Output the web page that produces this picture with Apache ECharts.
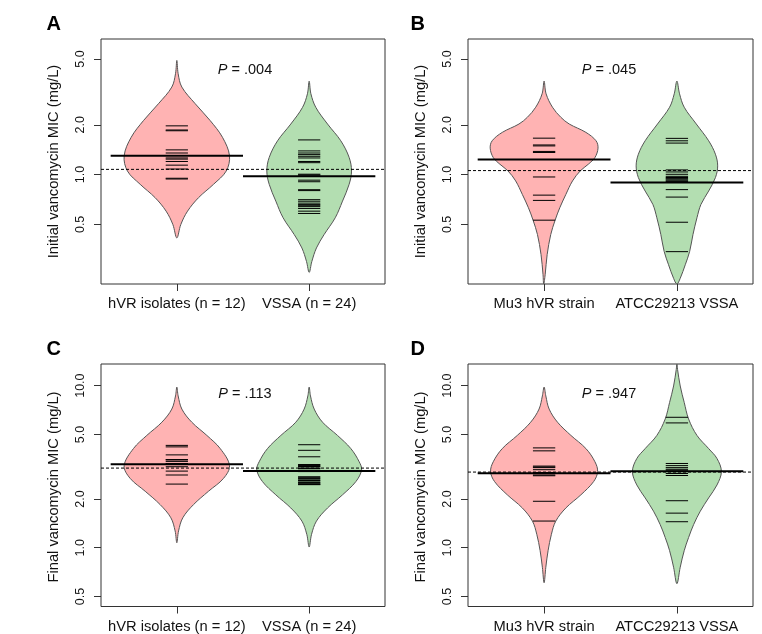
<!DOCTYPE html>
<html><head><meta charset="utf-8">
<script src="https://cdn.jsdelivr.net/npm/echarts@6/dist/echarts.min.js"></script>
<style>html,body{margin:0;padding:0;background:#fff}#c{width:762px;height:634px}</style>
</head><body><div id="c"></div>
<script>
// ---------- categories, ticks, labels ----------
const catsAC = ['hVR isolates (n = 12)', 'VSSA (n = 24)'];
const catsBD = ['Mu3 hVR strain', 'ATCC29213 VSSA'];
const ticksInitial = [0.5, 1.0, 2.0, 5.0];
const ticksFinal = [0.5, 1.0, 2.0, 5.0, 10.0];
const rangeInitial = [0.218, 6.6];
const rangeFinal = [0.434, 13.6];
const titleInitial = 'Initial vancomycin MIC (mg/L)';
const titleFinal = 'Final vancomycin MIC (mg/L)';
const pA = '.004', pB = '.045', pC = '.113', pD = '.947';

// ---------- individual MIC values (bean lines) ----------
const A_hVR = [1.97, 1.86, 1.84, 1.41, 1.35, 1.26, 1.24, 1.20, 1.14, 1.08, 0.95, 0.94];
const A_VSSA = [1.62, 1.39, 1.35, 1.32, 1.29, 1.26, 1.20, 1.18, 1.005, 0.995, 0.98, 0.925, 0.905, 0.81, 0.80, 0.705, 0.69, 0.672, 0.658, 0.652, 0.64, 0.624, 0.601, 0.582];
const B_Mu3 = [1.66, 1.51, 1.49, 1.38, 1.36, 0.967, 0.751, 0.698, 0.530];
const B_ATCC = [1.655, 1.60, 1.55, 1.067, 1.037, 1.004, 0.976, 0.96, 0.95, 0.94, 0.927, 0.915, 0.906, 0.811, 0.731, 0.515, 0.342];
const C_hVR = [4.28, 4.19, 3.74, 3.50, 3.48, 3.41, 3.31, 3.29, 3.16, 2.97, 2.81, 2.47];
const C_VSSA = [4.32, 3.99, 3.64, 3.26, 3.24, 3.22, 3.17, 3.15, 3.09, 3.07, 2.99, 2.97, 2.95, 2.74, 2.72, 2.67, 2.65, 2.60, 2.58, 2.53, 2.51, 2.48, 2.46, 2.45];
const D_Mu3 = [4.13, 3.96, 3.19, 3.15, 3.12, 3.03, 2.91, 2.81, 2.78, 1.935, 1.461];
const D_ATCC = [6.38, 5.89, 3.31, 3.21, 3.12, 3.05, 3.01, 2.95, 2.87, 2.79, 1.95, 1.635, 1.447];

// ---------- bean means and overall means ----------
const meansA = [1.30, 0.978], overallA = 1.075;
const meansB = [1.234, 0.894], overallB = 1.057;
const meansC = [3.27, 2.97], overallC = 3.10;
const meansD = [2.88, 2.96], overallD = 2.93;

// ---------- bean density outlines: [MIC, half width of density] ----------
const A_hVR_bean = [[4.90,0],[4.07,0.010],[3.38,0.038],[2.68,0.139],[2.12,0.252],[1.68,0.345],[1.30,0.398],[1.05,0.373],[0.873,0.277],[0.725,0.164],[0.601,0.081],[0.499,0.030],[0.414,0]];
const A_VSSA_bean = [[3.67,0],[3.08,0.013],[2.55,0.050],[2.02,0.139],[1.60,0.239],[1.27,0.302],[1.05,0.320],[0.873,0.302],[0.691,0.252],[0.548,0.197],[0.434,0.113],[0.360,0.055],[0.298,0.020],[0.256,0]];
const B_Mu3_bean = [[3.675,0],[3.077,0.015],[2.554,0.063],[2.220,0.126],[2.022,0.189],[1.799,0.315],[1.601,0.391],[1.445,0.406],[1.268,0.383],[1.155,0.333],[1.052,0.272],[0.915,0.214],[0.759,0.164],[0.630,0.118],[0.530,0.083],[0.434,0.050],[0.328,0.023],[0.248,0.008],[0.218,0.003]];
const B_ATCC_bean = [[3.675,0],[3.077,0.020],[2.554,0.055],[2.022,0.146],[1.601,0.239],[1.328,0.290],[1.128,0.307],[0.958,0.290],[0.795,0.239],[0.660,0.181],[0.548,0.151],[0.434,0.121],[0.343,0.096],[0.285,0.063],[0.236,0.025],[0.218,0]];
const C_hVR_bean = [[9.8,0],[8.64,0.010],[7.17,0.038],[5.95,0.113],[4.93,0.227],[4.09,0.328],[3.21,0.398],[2.68,0.353],[2.23,0.239],[1.845,0.126],[1.53,0.045],[1.27,0.013],[1.073,0]];
const C_VSSA_bean = [[9.8,0],[8.64,0.010],[7.17,0.038],[5.95,0.101],[4.93,0.214],[4.09,0.315],[3.39,0.378],[3.02,0.396],[2.56,0.353],[2.12,0.252],[1.76,0.139],[1.46,0.055],[1.21,0.018],[1.01,0]];
const D_Mu3_bean = [[9.8,0],[8.64,0.013],[7.17,0.038],[5.95,0.101],[4.93,0.202],[4.09,0.315],[3.39,0.383],[2.95,0.403],[2.56,0.373],[2.12,0.277],[1.76,0.164],[1.46,0.088],[1.21,0.055],[0.959,0.030],[0.758,0.013],[0.608,0]];
const D_ATCC_bean = [[13.6,0],[12.57,0.005],[9.95,0.025],[7.88,0.055],[6.23,0.088],[4.93,0.151],[4.09,0.239],[3.55,0.302],[2.95,0.335],[2.44,0.302],[2.03,0.239],[1.68,0.176],[1.39,0.126],[1.156,0.088],[0.959,0.055],[0.758,0.025],[0.60,0]];

// ---------- layout / styles ----------
const FONT = "'Liberation Sans', Arial, Helvetica, sans-serif";
const xMin = 0.427, xMax = 2.573;
const beanLineHalf = 0.084, meanHalf = 0.5;
const beanFill = ['#ffb3b3', '#b3deb1'];

const panels = [
  {letter:'A', grid:{left:101, top:39, width:284, height:245}, cats:catsAC, yTicks:ticksInitial, yRange:rangeInitial, title:titleInitial, p:pA,
   groups:[A_hVR, A_VSSA], beans:[A_hVR_bean, A_VSSA_bean], means:meansA, overall:overallA, letterPos:[46.5,24.5], pPos:[245,70], titlePos:[54,161.5]},
  {letter:'B', grid:{left:468, top:39, width:285, height:245}, cats:catsBD, yTicks:ticksInitial, yRange:rangeInitial, title:titleInitial, p:pB,
   groups:[B_Mu3, B_ATCC], beans:[B_Mu3_bean, B_ATCC_bean], means:meansB, overall:overallB, letterPos:[410.5,24.5], pPos:[609,70], titlePos:[421,161.5]},
  {letter:'C', grid:{left:101, top:364, width:284, height:246}, cats:catsAC, yTicks:ticksFinal, yRange:rangeFinal, title:titleFinal, p:pC,
   groups:[C_hVR, C_VSSA], beans:[C_hVR_bean, C_VSSA_bean], means:meansC, overall:overallC, letterPos:[46.5,349.8], pPos:[245,393.7], titlePos:[54,487]},
  {letter:'D', grid:{left:468, top:364, width:285, height:246}, cats:catsBD, yTicks:ticksFinal, yRange:rangeFinal, title:titleFinal, p:pD,
   groups:[D_Mu3, D_ATCC], beans:[D_Mu3_bean, D_ATCC_bean], means:meansD, overall:overallD, letterPos:[410.5,349.8], pPos:[609,393.7], titlePos:[421,487]}
];

const option = {animation:false, grid:[], xAxis:[], yAxis:[], series:[], graphic:[]};
const L = Math.log10;

panels.forEach((pn, i) => {
  option.grid.push(Object.assign({show:true, borderColor:'#333', borderWidth:1, backgroundColor:'transparent'}, pn.grid));
  option.xAxis.push({gridIndex:i, type:'value', min:xMin, max:xMax, position:'bottom',
    axisLine:{show:false, onZero:false}, splitLine:{show:false},
    axisTick:{show:true, customValues:[1,2], length:7, lineStyle:{color:'#333', width:1}},
    axisLabel:{show:true, customValues:[1,2], formatter:(v)=>pn.cats[Math.round(v)-1], margin:12.5,
      fontSize:14.7, color:'#111', fontFamily:FONT}});
  const lt = pn.yTicks.map(L);
  option.yAxis.push({gridIndex:i, type:'value', min:L(pn.yRange[0]), max:L(pn.yRange[1]), position:'left',
    axisLine:{show:false, onZero:false}, splitLine:{show:false},
    axisTick:{show:true, customValues:lt, length:7, lineStyle:{color:'#333', width:1}},
    axisLabel:{show:true, customValues:lt, rotate:90, formatter:(v)=>Math.pow(10,v).toFixed(1), margin:14,
      fontSize:12.5, color:'#111', fontFamily:FONT}});

  // beans (outline: left side top->bottom, right side bottom->top, tips shared)
  option.series.push({type:'custom', xAxisIndex:i, yAxisIndex:i, clip:true, z:2, silent:true,
    data:[[1],[2]],
    renderItem:(params, api)=>{
      const cx = api.value(0); const k = cx - 1;
      const ol = pn.beans[k];
      const left = ol.map(([v,w])=>api.coord([cx-w, L(v)]));
      const right = ol.slice(1, -1).reverse().map(([v,w])=>api.coord([cx+w, L(v)]));
      return {type:'polygon', shape:{points:left.concat(right), smooth:0.35},
        style:{fill:beanFill[k], stroke:'#555', lineWidth:1, lineJoin:'round'}};
    }});
  // overall line
  option.series.push({type:'custom', xAxisIndex:i, yAxisIndex:i, z:3, silent:true,
    data:[[pn.overall]],
    renderItem:(params, api)=>{
      const y = L(api.value(0));
      const a = api.coord([xMin, y]), b = api.coord([xMax, y]);
      return {type:'line', shape:{x1:a[0], y1:a[1], x2:b[0], y2:b[1]},
        style:{stroke:'#000', lineWidth:1, lineDash:[3,2]}};
    }});
  // bean lines
  const bl = [];
  pn.groups.forEach((g, k)=>g.forEach(v=>bl.push([k+1, v])));
  option.series.push({type:'custom', xAxisIndex:i, yAxisIndex:i, z:4, silent:true,
    data:bl,
    renderItem:(params, api)=>{
      const cx = api.value(0), y = L(api.value(1));
      const a = api.coord([cx-beanLineHalf, y]), b = api.coord([cx+beanLineHalf, y]);
      return {type:'line', shape:{x1:a[0], y1:a[1], x2:b[0], y2:b[1]},
        style:{stroke:'#000', lineWidth:1}};
    }});
  // mean lines
  option.series.push({type:'custom', xAxisIndex:i, yAxisIndex:i, z:5, silent:true,
    data:pn.means.map((m,k)=>[k+1, m]),
    renderItem:(params, api)=>{
      const cx = api.value(0), y = L(api.value(1));
      const a = api.coord([cx-meanHalf, y]), b = api.coord([cx+meanHalf, y]);
      return {type:'line', shape:{x1:a[0], y1:a[1], x2:b[0], y2:b[1]},
        style:{stroke:'#000', lineWidth:2}};
    }});

  // texts
  option.graphic.push({type:'text', x:pn.letterPos[0], y:pn.letterPos[1],
    style:{text:pn.letter, fontSize:20, fontWeight:'bold', fontFamily:FONT, fill:'#000', align:'left', verticalAlign:'middle'}});
  option.graphic.push({type:'text', x:pn.pPos[0], y:pn.pPos[1],
    style:{text:'{i|P} = ' + pn.p, fontSize:14.5, fontFamily:FONT, fill:'#111', align:'center', verticalAlign:'middle',
      rich:{i:{fontStyle:'italic', fontSize:14.5, fontFamily:FONT, fill:'#111'}}}});
  option.graphic.push({type:'text', x:pn.titlePos[0], y:pn.titlePos[1], rotation:Math.PI/2,
    style:{text:pn.title, fontSize:14.7, fontFamily:FONT, fill:'#111', align:'center', verticalAlign:'middle'}});
});

const chart = echarts.init(document.getElementById('c'), null, {renderer:'canvas'});
chart.setOption(option);
</script>
</body></html>
